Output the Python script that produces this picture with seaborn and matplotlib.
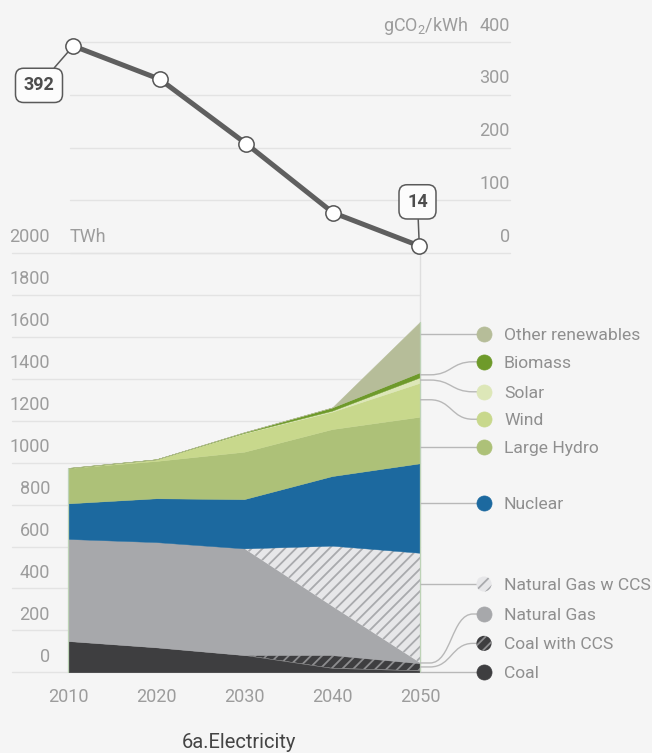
import matplotlib
matplotlib.use("Agg")
import matplotlib.pyplot as plt
from matplotlib.path import Path
from matplotlib.patches import PathPatch
import numpy as np
import seaborn as sns

# ---------------------------------------------------------------- data
years = [2010, 2020, 2030, 2040, 2050]

coal = [149, 119, 82, 20, 8]
coal_ccs = [0, 0, 0, 62, 35]
natural_gas = [487, 502, 509, 234, 3]
natural_gas_ccs = [0, 0, 0, 288, 524]
nuclear = [170, 209, 235, 332, 427]
large_hydro = [168, 178, 226, 224, 222]
wind = [0, 8, 88, 83, 162]
solar = [0, 0, 2, 5, 26]
biomass = [1, 0, 3, 15, 24]
other_renewables = [0, 0, 0, 0, 241]

co2_intensity = [392, 329, 207, 77, 14]
co2_labelled = [392, 14]

source_names = ["Coal", "Coal with CCS", "Natural Gas", "Natural Gas w CCS",
                "Nuclear", "Large Hydro", "Wind", "Solar", "Biomass",
                "Other renewables"]
source_values = [coal, coal_ccs, natural_gas, natural_gas_ccs, nuclear,
                 large_hydro, wind, solar, biomass, other_renewables]

twh_ticks = [0, 200, 400, 600, 800, 1000, 1200, 1400, 1600, 1800, 2000]
co2_ticks = [0, 100, 200, 300, 400]
year_labels = ["2010", "2020", "2030", "2040", "2050"]

# ---------------------------------------------------------------- styling
BG = "#f5f5f5"
GRID = "#e3e3e3"
TICK_TXT = "#9c9c9c"
LEGEND_TXT = "#8f8f8f"
LINE = "#5f5f5f"
CONNECT = "#b8b8b8"
TXT_WEIGHT = "normal"

# (face colour, hatch colour, hatch) for each source, bottom to top
source_styles = [
    ("#3e3e40", None, None),
    ("#3e3e40", "#8d8d8f", "///"),
    ("#a7a8ab", None, None),
    ("#e7e7e9", "#a9aaad", "///"),
    ("#1c699f", None, None),
    ("#adc178", None, None),
    ("#c8d88c", None, None),
    ("#dde7b8", None, None),
    ("#6e9a2a", None, None),
    ("#b6bd99", None, None),
]

# vertical slots of the legend entries, in TWh of the lower axis
legend_slots = [3, 138, 278, 421, 809, 1076, 1207, 1338, 1481, 1614]

sns.set_theme(style="white", rc={"axes.facecolor": "none",
                                 "figure.facecolor": BG,
                                 "hatch.linewidth": 1.3})
plt.rcParams["font.family"] = ["Roboto", "DejaVu Sans"]
plt.rcParams["mathtext.default"] = "regular"

W, H = 652, 753
fig = plt.figure(figsize=(W / 100, H / 100), dpi=100)
fig.patch.set_facecolor(BG)


def px_box(left, top, right, bottom):
    return [left / W, 1 - bottom / H, (right - left) / W, (bottom - top) / H]


ax_mix = fig.add_axes(px_box(12, 253, 420, 672.3))
ax_co2 = fig.add_axes(px_box(70, 41.7, 510, 253.3))

for ax in (ax_mix, ax_co2):
    ax.set_facecolor("none")
    for s in ax.spines.values():
        s.set_visible(False)
    ax.tick_params(length=0)

# ---------------------------------------------------------------- electricity mix
px_per_year = (420 - 68.3) / 40
ax_mix.set_xlim(2010 - (68.3 - 12) / px_per_year, 2050)
ax_mix.set_ylim(0, 2000)

for v in twh_ticks:
    ax_mix.axhline(v, color=GRID, lw=1, zorder=0, clip_on=False)
    ax_mix.annotate(f"{v}", xy=(0.0931, v), xycoords=("axes fraction", "data"),
                    xytext=(0, 7.7), textcoords="offset points",
                    ha="right", va="baseline", fontsize=13, color=TICK_TXT,
                    fontweight=TXT_WEIGHT, annotation_clip=False)
ax_mix.annotate("TWh", xy=(0.1422, twh_ticks[-1]), xycoords=("axes fraction", "data"),
                xytext=(0, 7.7), textcoords="offset points",
                ha="left", va="baseline", fontsize=13, color=TICK_TXT,
                fontweight=TXT_WEIGHT, annotation_clip=False)
ax_mix.set_yticks([])

# marker line down from the last year
ax_mix.plot([years[-1], years[-1]], [0, twh_ticks[-1]], color="#dedede", lw=1,
            zorder=0.5, clip_on=False)

x = np.array(years, dtype=float)
lower = np.zeros(len(years))
bands = []
for vals, (face, hcol, hatch) in zip(source_values, source_styles):
    upper = lower + np.array(vals, dtype=float)
    if hatch:
        ax_mix.fill_between(x, lower, upper, facecolor=face, edgecolor=hcol,
                            hatch=hatch, linewidth=0, zorder=2)
    else:
        ax_mix.fill_between(x, lower, upper, facecolor=face, edgecolor=face,
                            linewidth=0.3, zorder=2)
    bands.append((lower[-1], upper[-1]))
    lower = upper

total = lower
for i in (0, -1):
    ax_mix.plot([x[i], x[i]], [0, total[i]], color="#bdd3b6", lw=0.9, zorder=3,
                clip_on=False)

ax_mix.set_xticks(years)
ax_mix.set_xticklabels(year_labels)
ax_mix.tick_params(axis="x", pad=11, labelsize=13, labelcolor=TICK_TXT)
for lab in ax_mix.get_xticklabels():
    lab.set_fontweight(TXT_WEIGHT)

# legend with connectors from the last-year bands
x_bend0 = 2050 + 10 / px_per_year
x_bend1 = 2050 + 53 / px_per_year
x_dot = 2050 + 64 / px_per_year
x_text = 2050 + 84 / px_per_year
xm = (x_bend0 + x_bend1) / 2
for name, (face, hcol, hatch), (lo, hi), ly in zip(source_names, source_styles,
                                                    bands, legend_slots):
    if lo <= ly <= hi:
        verts = [(2050, ly), (x_dot, ly)]
        codes = [Path.MOVETO, Path.LINETO]
    else:
        y0 = (lo + hi) / 2
        verts = [(2050, y0), (x_bend0, y0), (xm, y0), (xm, ly), (x_bend1, ly), (x_dot, ly)]
        codes = [Path.MOVETO, Path.LINETO, Path.CURVE4, Path.CURVE4, Path.CURVE4, Path.LINETO]
    ax_mix.add_patch(PathPatch(Path(verts, codes), fill=False, edgecolor=CONNECT,
                               lw=1, clip_on=False, zorder=4))
    if hatch:
        ax_mix.scatter([x_dot], [ly], s=118, facecolors=face, edgecolors=hcol,
                       linewidths=0, hatch=hatch, clip_on=False, zorder=6)
    else:
        ax_mix.scatter([x_dot], [ly], s=118, facecolors=face, edgecolors=face,
                       linewidths=0.5, clip_on=False, zorder=6)
    ax_mix.text(x_text, ly, name, ha="left", va="center_baseline", fontsize=12.6,
                color=LEGEND_TXT, fontweight=TXT_WEIGHT, clip_on=False)

# ---------------------------------------------------------------- CO2 intensity
co2_px_per_year = (419.3 - 73.3) / 40
ax_co2.set_xlim(2010 - (73.3 - 70) / co2_px_per_year,
                2050 + (510 - 419.3) / co2_px_per_year)
ax_co2.set_ylim(0, 400)
ax_co2.set_xticks([])
ax_co2.set_yticks([])
for v in co2_ticks:
    ax_co2.axhline(v, color=GRID, lw=1, zorder=0, clip_on=False)
    ax_co2.annotate(f"{v}", xy=(1.0, v), xycoords=("axes fraction", "data"),
                    xytext=(0, 8), textcoords="offset points",
                    ha="right", va="baseline", fontsize=13, color=TICK_TXT,
                    fontweight=TXT_WEIGHT, annotation_clip=False)
ax_co2.annotate("gCO$_2$/kWh", xy=(0.9045, co2_ticks[-1]),
                xycoords=("axes fraction", "data"),
                xytext=(0, 8), textcoords="offset points",
                ha="right", va="baseline", fontsize=13, color=TICK_TXT,
                fontweight=TXT_WEIGHT, annotation_clip=False)

sns.lineplot(x=years, y=co2_intensity, ax=ax_co2, color=LINE, linewidth=3.6,
             marker="o", markersize=11, markerfacecolor="white",
             markeredgecolor="#555555", markeredgewidth=1.1, clip_on=False,
             zorder=5)

label_offsets = {years[0]: (-24.7, -28.4), years[-1]: (-1.3, 31.7)}
for yr, val in zip([years[0], years[-1]], co2_labelled):
    ax_co2.annotate(f"{val}", xy=(yr, val), xytext=label_offsets[yr],
                    textcoords="offset points", ha="center", va="center",
                    fontsize=13, fontweight="bold", color="#4d4d4d",
                    bbox=dict(boxstyle="round,pad=0.45,rounding_size=0.45",
                              facecolor="#fcfcfc", edgecolor="#5a5a5a", lw=1.1),
                    arrowprops=dict(arrowstyle="-", color="#5a5a5a", lw=1.1,
                                    shrinkA=0, shrinkB=5.5),
                    zorder=4, annotation_clip=False)

fig.text(238.5 / W, 1 - 748 / H, "6a.Electricity", ha="center", va="baseline",
         fontsize=14.5, color="#444444", fontweight="normal")

fig.savefig("out.png", dpi=100, facecolor=BG)
